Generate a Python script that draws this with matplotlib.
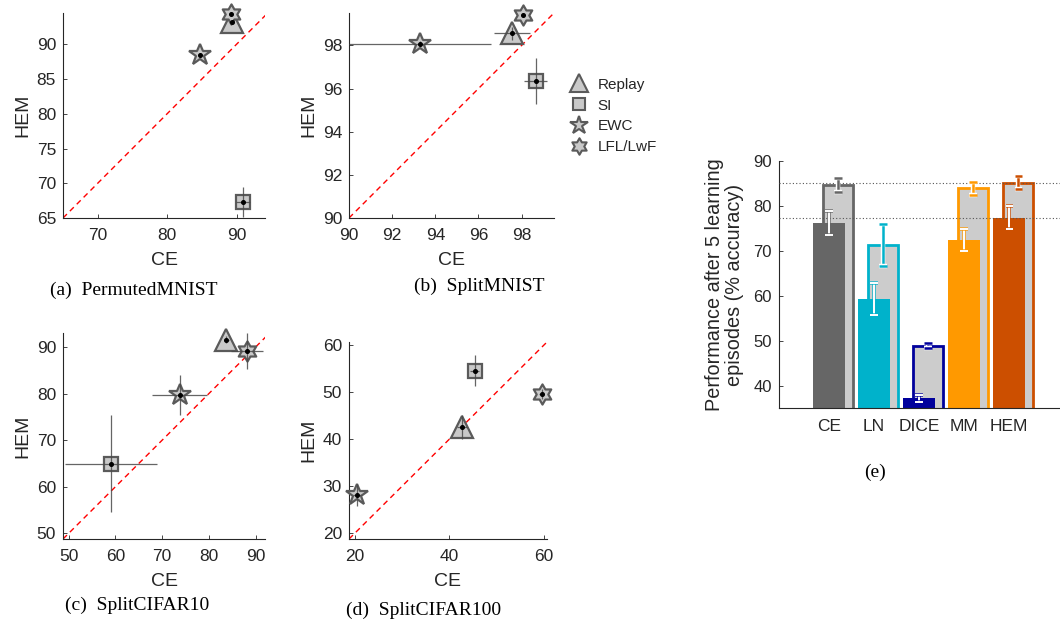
import numpy as np
import matplotlib.pyplot as plt
from matplotlib.path import Path
from matplotlib.lines import Line2D
import matplotlib.patheffects as pe

plt.rcParams['font.family'] = ['Liberation Sans', 'DejaVu Sans']

W, H = 1060, 623
TXT = '#262626'

# methods compared in panels (a)-(d)
methods = ['Replay', 'SI', 'EWC', 'LFL/LwF']

# (a) PermutedMNIST
pm_ce = [89.4, 90.9, 84.7, 89.2]
pm_hem = [93.2, 67.3, 88.4, 94.3]
pm_ce_err = [0.3, 1.0, 0.2, 0.2]
pm_hem_err = [0.3, 2.2, 0.2, 0.2]

# (b) SplitMNIST
sm_ce = [97.55, 98.65, 93.3, 98.05]
sm_hem = [98.56, 96.36, 98.07, 99.42]
sm_ce_err = [0.83, 0.52, 3.3, 0.1]
sm_hem_err = [0.3, 1.06, 0.15, 0.1]

# (c) SplitCIFAR10
c10_ce = [83.7, 59.0, 73.8, 88.1]
c10_hem = [91.6, 64.9, 79.7, 89.1]
c10_ce_err = [0.5, 9.8, 5.9, 3.4]
c10_hem_err = [0.8, 10.4, 4.3, 3.9]

# (d) SplitCIFAR100
c100_ce = [42.7, 45.4, 20.5, 59.6]
c100_hem = [42.6, 54.6, 28.1, 49.6]
c100_ce_err = [1.0, 1.0, 0.8, 0.5]
c100_hem_err = [2.5, 3.3, 2.3, 1.0]

# (e) performance after 5 learning episodes
losses = ['CE', 'LN', 'DICE', 'MM', 'HEM']
loss_colors = ['#666666', '#00b2cb', '#00009c', '#ff9900', '#cc4f00']
perf_front = [76.2, 59.3, 37.2, 72.4, 77.4]
perf_front_err = [2.6, 3.6, 0.8, 2.4, 2.5]
perf_back = [84.6, 71.3, 48.9, 83.9, 85.2]
perf_back_err = [1.6, 4.7, 0.5, 1.4, 1.5]


def hexagram():
    ang = np.pi / 2 + np.arange(12) * np.pi / 6
    r = np.where(np.arange(12) % 2 == 0, 1.0, 1 / np.sqrt(3))
    v = np.column_stack([r * np.cos(ang), r * np.sin(ang)])
    v = np.vstack([v, v[:1]])
    codes = [Path.MOVETO] + [Path.LINETO] * 11 + [Path.CLOSEPOLY]
    return Path(v, codes)


marker_style = {
    'Replay': dict(marker='^', ms=16),
    'SI': dict(marker='s', ms=10.5),
    'EWC': dict(marker='*', ms=16.5),
    'LFL/LwF': dict(marker=hexagram(), ms=14.5),
}
FACE = '#c9c9c9'
EDGE = '#5a5a5a'


def box(l, t, r, b):
    return [l / W, 1 - b / H, (r - l) / W, (b - t) / H]


def style_axes(ax, fs=10):
    for s in ['top', 'right']:
        ax.spines[s].set_visible(False)
    for s in ['left', 'bottom']:
        ax.spines[s].set_color(TXT)
        ax.spines[s].set_linewidth(0.8)
    ax.tick_params(direction='in', length=3, width=0.6, colors=TXT,
                   labelsize=fs, labelcolor=TXT)


def scatter_panel(rect, ce, hem, ce_err, hem_err, xlim, ylim, xticks, yticks,
                  caption, cap_xy):
    ax = fig.add_axes(box(*rect))
    style_axes(ax, 12.5)
    ax.tick_params(axis='x', pad=7)
    ax.tick_params(axis='y', pad=5)
    lo, hi = min(xlim[0], ylim[0]), max(xlim[1], ylim[1])
    ax.plot([lo, hi], [lo, hi], color='red', lw=1, dashes=(4, 3), zorder=2)
    for i, m in enumerate(methods):
        ax.plot(ce[i], hem[i], ls='none', mfc=FACE, mec=EDGE, mew=1.6,
                zorder=3, clip_on=False, **marker_style[m])
        ax.errorbar(ce[i], hem[i], xerr=ce_err[i], yerr=hem_err[i], fmt='none',
                    ecolor='#4a4a4a', elinewidth=0.9, alpha=0.85, zorder=4)
        ax.plot(ce[i], hem[i], 'o', ms=2.6, color='k', zorder=5, clip_on=False)
    ax.set_xlim(*xlim)
    ax.set_ylim(*ylim)
    ax.set_xticks(xticks)
    ax.set_yticks(yticks)
    ax.set_xlabel('CE', fontsize=14, color=TXT, labelpad=7)
    ax.set_ylabel('HEM', fontsize=14, color=TXT, labelpad=4)
    fig.text(cap_xy[0] / W, 1 - cap_xy[1] / H, caption, ha='center', va='center',
             family='Liberation Serif', fontsize=14)
    return ax


fig = plt.figure(figsize=(W / 100, H / 100), dpi=100)

scatter_panel((63, 13, 265, 218), pm_ce, pm_hem, pm_ce_err, pm_hem_err,
              (65, 94.1), (65, 94.5), [70, 80, 90], [65, 70, 75, 80, 85, 90],
              '(a)  PermutedMNIST', (134, 290))
scatter_panel((349, 13, 554, 218), sm_ce, sm_hem, sm_ce_err, sm_hem_err,
              (90, 99.5), (90, 99.5), [90, 92, 94, 96, 98], [90, 92, 94, 96, 98],
              '(b)  SplitMNIST', (479, 286))
scatter_panel((63, 333, 265, 539), c10_ce, c10_hem, c10_ce_err, c10_hem_err,
              (48.8, 92), (48.8, 93), [50, 60, 70, 80, 90], [50, 60, 70, 80, 90],
              '(c)  SplitCIFAR10', (137, 605))
scatter_panel((349, 342, 547, 539), c100_ce, c100_hem, c100_ce_err, c100_hem_err,
              (18.8, 60.7), (18.8, 60.7), [20, 40, 60], [20, 30, 40, 50, 60],
              '(d)  SplitCIFAR100', (424, 610))

# legend shared by the four scatter panels
handles = [Line2D([], [], ls='none', mfc=FACE, mec=EDGE, mew=1.5,
                  marker=marker_style[m]['marker'],
                  ms=marker_style[m]['ms'] * 0.82) for m in methods]
fig.legend(handles, methods, loc='upper left', bbox_to_anchor=(561 / W, 1 - 70 / H),
           frameon=False, fontsize=11, handlelength=1.3, handletextpad=0.6,
           labelspacing=0.45, borderpad=0, labelcolor=TXT)

# (e) bar chart
ax = fig.add_axes(box(779, 161, 1060, 408))
style_axes(ax, 12)
x = np.arange(1, len(losses) + 1)
for i in range(len(losses)):
    c = loss_colors[i]
    ax.bar(x[i] + 0.2, perf_back[i], width=0.68, color='#cccccc', edgecolor=c,
           linewidth=2, zorder=1)
    ax.bar(x[i], perf_front[i], width=0.7, color=c, edgecolor=c, alpha=1,
           linewidth=0, zorder=2)
    eb = ax.errorbar(x[i] + 0.2, perf_back[i], yerr=perf_back_err[i], fmt='none',
                     ecolor=c, elinewidth=1.8, capsize=2.6, capthick=1.8, zorder=4)
    for art in eb.lines[1] + eb.lines[2]:
        art.set_path_effects([pe.withStroke(linewidth=3.2, foreground='white')])
    eb = ax.errorbar(x[i], perf_front[i], yerr=perf_front_err[i], fmt='none',
                     ecolor='white', elinewidth=1.2, capsize=2.6, capthick=1.2,
                     zorder=4)
    for art in eb.lines[1] + eb.lines[2]:
        art.set_path_effects([pe.withStroke(linewidth=2.8, foreground=c, alpha=0.7),
                              pe.Normal()])

# reference levels of the HEM bars
ax.axhline(perf_back[-1], color='#555555', lw=0.8, ls=(0, (1, 2)), zorder=3)
ax.axhline(perf_front[-1], color='#555555', lw=0.8, ls=(0, (1, 2)), zorder=3)

ax.set_xlim(-0.11, 6.13)
ax.set_ylim(35, 90)
ax.set_yticks([40, 50, 60, 70, 80, 90])
ax.set_xticks(x)
ax.set_xticklabels(losses, fontsize=12.5)
ax.tick_params(axis='x', pad=8)
ax.tick_params(axis='y', pad=5)
ax.set_ylabel('Performance after 5 learning\nepisodes (% accuracy)',
              fontsize=14.3, color=TXT, labelpad=7, linespacing=1.05)
fig.text(875 / W, 1 - 472 / H, '(e)', ha='center', va='center',
         family='Liberation Serif', fontsize=14)

fig.savefig('out.png', dpi=100)
